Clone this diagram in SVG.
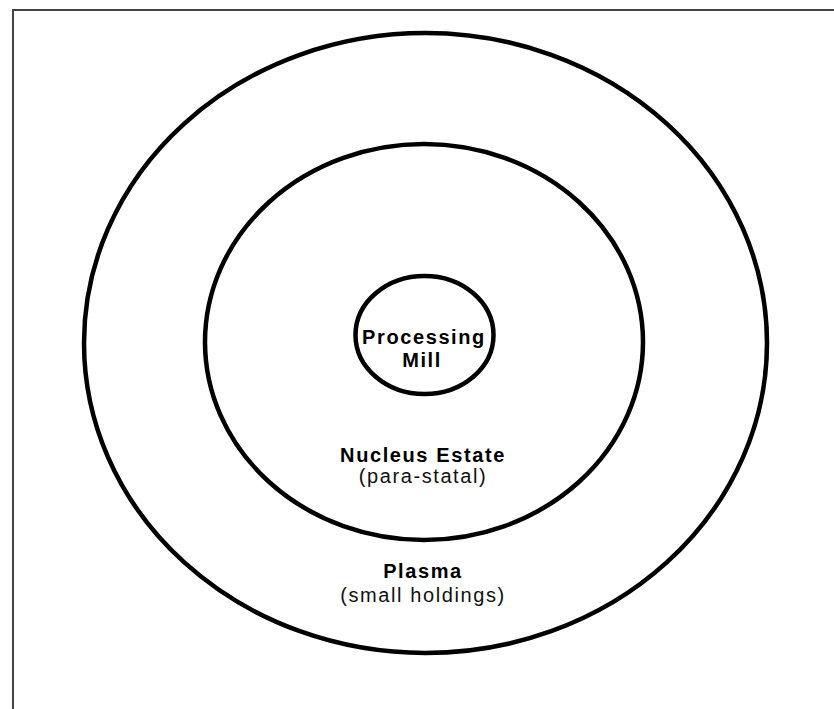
<svg xmlns="http://www.w3.org/2000/svg" width="834" height="709" viewBox="0 0 834 709">
<style>
.ring{fill:none;stroke:#000;stroke-width:4.5}
.b{font-family:"Liberation Sans",Arial,sans-serif;font-weight:bold;font-size:20px;letter-spacing:1.6px;text-anchor:middle;fill:#000}
.r{font-family:"Liberation Sans",Arial,sans-serif;font-size:20px;letter-spacing:1.6px;text-anchor:middle;fill:#111}
</style>
<rect x="0" y="0" width="834" height="709" fill="#fff"/>
<rect x="13" y="10" width="840" height="720" fill="none" stroke="#444" stroke-width="2"/>
<g id="plasma">
<ellipse class="ring" cx="425.5" cy="343" rx="341.5" ry="310"/>
<text class="b" x="423" y="578">Plasma</text>
<text class="r" x="423" y="602">(small holdings)</text>
</g>
<g id="nucleus-estate">
<ellipse class="ring" cx="424" cy="342" rx="219" ry="198"/>
<text class="b" x="423" y="462">Nucleus Estate</text>
<text class="r" x="423" y="483">(para-statal)</text>
</g>
<g id="processing-mill">
<ellipse class="ring" cx="424.5" cy="335" rx="69" ry="59"/>
<text class="b" x="424" y="344">Processing</text>
<text class="b" x="422" y="367">Mill</text>
</g>
<g id="connectors"/>
</svg>
